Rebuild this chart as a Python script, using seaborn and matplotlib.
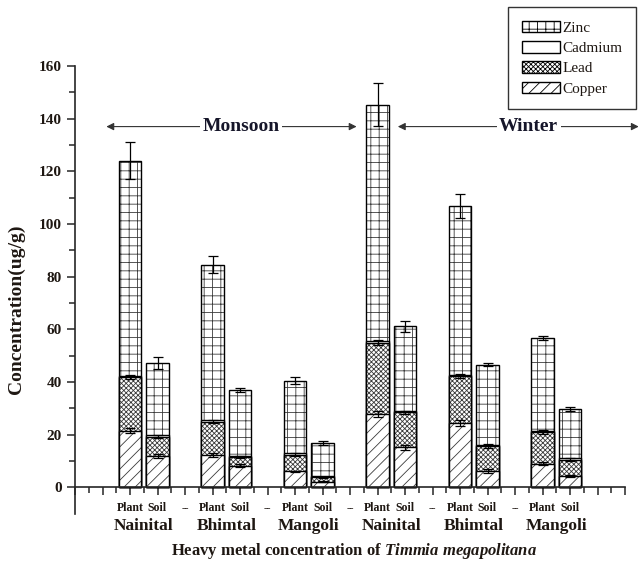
import numpy as np
import pandas as pd
import matplotlib
matplotlib.use("Agg")
import matplotlib.pyplot as plt
import seaborn as sns
from matplotlib.patches import Patch

# ---------------- data ----------------
seasons = ["Monsoon", "Winter"]
sites = ["Nainital", "Bhimtal", "Mangoli"]
sample_types = ["Plant", "Soil"]
tick_labels = ["Plant", "Soil", "--"]

# order: Monsoon (Nainital P,S, Bhimtal P,S, Mangoli P,S), Winter (same)
copper  = [21.5, 11.8, 12.4, 8.3, 6.1, 2.2, 28.0, 15.2, 24.5, 6.3, 9.0, 4.3]
lead    = [20.3, 7.5, 12.6, 3.2, 6.4, 1.6, 27.0, 13.3, 17.8, 9.3, 12.0, 6.3]
cadmium = [0.5, 0.5, 0.5, 0.5, 0.5, 0.5, 0.5, 0.5, 0.5, 0.5, 0.5, 0.5]
zinc    = [81.7, 27.5, 59.0, 25.0, 27.6, 12.7, 89.8, 32.2, 64.0, 30.5, 35.2, 18.8]

total_err  = [7.0, 2.3, 3.2, 0.8, 1.5, 0.8, 8.2, 2.0, 4.5, 0.6, 0.7, 0.8]
lead_err   = [0.8, 0.6, 0.6, 0.5, 0.4, 0.3, 1.0, 0.6, 0.6, 0.8, 0.8, 0.5]
copper_err = [1.0, 0.8, 0.8, 0.6, 0.3, 0.3, 1.2, 0.8, 1.0, 0.8, 0.6, 0.5]

# ---------------- table ----------------
rows = []
i = 0
for si, season in enumerate(seasons):
    for gi, site in enumerate(sites):
        for ti, st in enumerate(sample_types):
            rows.append(dict(season=season, site=site, sample=st,
                             pos=si * 9 + gi * 3 + ti,
                             copper=copper[i], lead=lead[i],
                             cadmium=cadmium[i], zinc=zinc[i]))
            i += 1
df = pd.DataFrame(rows)
df["top_cu"] = df["copper"]
df["top_pb"] = df["top_cu"] + df["lead"]
df["top_cd"] = df["top_pb"] + df["cadmium"]
df["top_zn"] = df["top_cd"] + df["zinc"]

# ---------------- style ----------------
sns.set_style("ticks")
TXT = "#1e1712"
plt.rcParams["font.family"] = ["Liberation Serif", "DejaVu Serif"]
plt.rcParams["hatch.linewidth"] = 0.6
plt.rcParams["mathtext.fontset"] = "custom"
plt.rcParams["mathtext.it"] = "Liberation Serif:italic:bold"
plt.rcParams["mathtext.rm"] = "Liberation Serif:bold"

fig = plt.figure(figsize=(6.39, 5.63), dpi=100)
ax = fig.add_axes([75 / 639, 1 - 513.8 / 563, 550 / 639, (513.8 - 66) / 563])

LEAD_H = "xxxxxxx"
layers = [("top_zn", "++"), ("top_cd", ""), ("top_pb", LEAD_H), ("top_cu", "///")]
W = 0.82
for col, hatch in layers:
    sns.barplot(data=df, x="pos", y=col, native_scale=True, width=W,
                color="white", saturation=1, hatch=hatch, edgecolor="#3a3a3a",
                linewidth=0, errorbar=None, ax=ax)
    sns.barplot(data=df, x="pos", y=col, native_scale=True, width=W,
                color="black", fill=False, linewidth=1.0, errorbar=None, ax=ax)

ekw = dict(fmt="none", ecolor="black", elinewidth=0.9, capsize=3.5, capthick=0.9, zorder=5)
ax.errorbar(df["pos"], df["top_zn"], yerr=total_err, **ekw)
ax.errorbar(df["pos"], df["top_pb"], yerr=lead_err, **ekw)
ax.errorbar(df["pos"], df["top_cu"], yerr=copper_err, **ekw)

# ---------------- axes ----------------
ax.set_xlim(-2, 18)
ax.set_ylim(-10, 160)
ax.spines["bottom"].set_position(("data", 0))
ax.spines["right"].set_visible(False)
ax.spines["top"].set_visible(False)
for s in ["left", "bottom"]:
    ax.spines[s].set_linewidth(1.2)

ax.set_xticks(np.arange(-2, 19, 1))
ax.set_xticks(np.arange(-1.5, 18, 1), minor=True)
xl = []
for k in range(-2, 19):
    xl.append(tick_labels[k % 3] if 0 <= k <= 16 else "")
ax.set_xticklabels(xl, fontsize=8.5, fontweight="bold", color=TXT)
ax.set_yticks(np.arange(0, 161, 20))
ax.set_yticks(np.arange(10, 160, 20), minor=True)
ax.set_yticklabels([str(v) for v in range(0, 161, 20)], fontsize=11,
                   fontweight="bold", color=TXT)
ax.tick_params(axis="both", which="major", direction="out", length=5.5, width=1.1, pad=4)
ax.tick_params(axis="x", which="major", pad=5)
ax.tick_params(axis="both", which="minor", direction="out", length=4, width=1.1)
ax.set_xlabel("")
ax.set_ylabel("")

for si in range(2):
    for gi, site in enumerate(sites):
        ax.text(si * 9 + gi * 3 + 0.5, -14.5, site, ha="center", va="center",
                fontsize=12.5, fontweight="bold", color=TXT, clip_on=False)

fig.text(354 / 639, 1 - 551 / 563,
         r"Heavy metal concentration of $\mathit{Timmia\ megapolitana}$",
         ha="center", va="center", fontsize=12, fontweight="bold", color=TXT)
fig.text(16 / 639, 1 - 309 / 563, "Concentration(ug/g)", rotation=90,
         ha="center", va="center", fontsize=14, fontweight="bold", color=TXT)

# season arrows
akw = dict(arrowstyle="<|-|>", lw=0.8, color="#333333", mutation_scale=11,
           shrinkA=0, shrinkB=0)
ax.annotate("", xy=(-0.86, 137), xytext=(8.24, 137), arrowprops=akw,
            annotation_clip=False)
ax.annotate("", xy=(9.74, 137), xytext=(18.5, 137), arrowprops=akw,
            annotation_clip=False)
tb = dict(boxstyle="square,pad=0.12", fc="white", ec="none")
ax.text(4.05, 137, "Monsoon", ha="center", va="center", fontsize=14,
        fontweight="bold", color="#16162a", bbox=tb, zorder=6)
ax.text(14.5, 137, "Winter", ha="center", va="center", fontsize=14,
        fontweight="bold", color="#16162a", bbox=tb, zorder=6, clip_on=False)

handles = [Patch(facecolor="white", edgecolor="black", hatch="++", label="Zinc"),
           Patch(facecolor="white", edgecolor="black", hatch="", label="Cadmium"),
           Patch(facecolor="white", edgecolor="black", hatch=LEAD_H, label="Lead"),
           Patch(facecolor="white", edgecolor="black", hatch="///", label="Copper")]
leg = fig.legend(handles=handles, loc="upper right",
                 bbox_to_anchor=(636 / 639, 1 - 7 / 563), fontsize=11,
                 frameon=True, fancybox=False, edgecolor="black",
                 handlelength=2.5, handleheight=0.8, handletextpad=0.15,
                 labelspacing=0.4, borderpad=0.9, borderaxespad=0)
leg.get_frame().set_linewidth(1.0)
for t in leg.get_texts():
    t.set_color(TXT)

fig.savefig("out.png", dpi=100)
